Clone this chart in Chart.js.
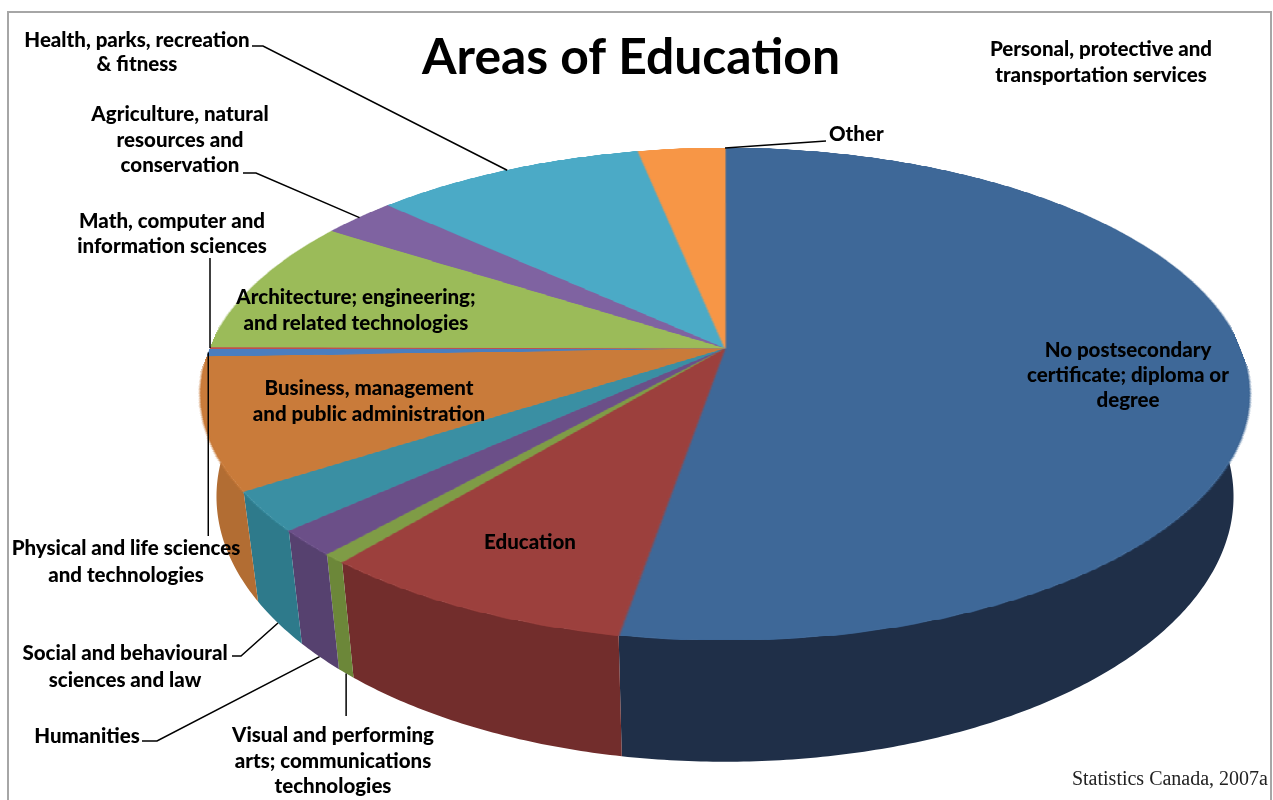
<!DOCTYPE html>
<html>
<head>
<meta charset="utf-8">
<title>Areas of Education</title>
<script src="https://cdn.jsdelivr.net/npm/chart.js@4.4.0/dist/chart.umd.min.js"></script>
<style>
  html, body { margin: 0; padding: 0; background: #fff; }
</style>
</head>
<body>
<canvas id="chart-areas" width="1273" height="800"></canvas>
<script>
// Categorias en orden horario desde las 12
var categorias = [
    "No postsecondary certificate; diploma or degree",
    "Education",
    "Visual and performing arts; communications technologies",
    "Humanities",
    "Social and behavioural sciences and law",
    "Business, management and public administration",
    "Physical and life sciences and technologies",
    "Math, computer and information sciences",
    "Architecture; engineering; and related technologies",
    "Agriculture, natural resources and conservation",
    "Health, parks, recreation & fitness",
    "Other",
    "Personal, protective and transportation services"
];
var porcentajes = [52.8, 8.3, 0.6, 1.7, 2.6, 8.6, 0.5, 0.1, 9.1, 2.7, 10.0, 3.2, 0];
var coloresCara = ["#3e6898", "#9c403d", "#7f9c46", "#6b4f88", "#3a8fa3", "#c97b3a",
                   "#4a7ebf", "#c0504d", "#9bbb59", "#7f63a1", "#4baac6", "#f79646", "#2c4d75"];
var coloresLado = ["#1f2f48", "#722d2c", "#6c8739", "#56416f", "#2e7a8b", "#b26d33",
                   "#3a6598", "#8c3a38", "#7c9647", "#654f80", "#3a8aa0", "#c97a38", "#22395a"];

// Perspectiva del pastel (vista inclinada)
var persp = { cx: 725, cy: 348, A: 515, B: 237.4, k: 0.187, prof: 99, base: 0.97 };

// Etiquetas: 'borde' linea al borde superior, 'base' linea al pie del lado, 'fin' al borde final
var etiquetas = [
    { i: 0, lineas: ["No postsecondary", "certificate; diploma or", "degree"], x: 1128, y: 357, paso: 25 },
    { i: 1, lineas: ["Education"], x: 530, y: 549 },
    { i: 2, lineas: ["Visual and performing", "arts; communications", "technologies"], x: 333, y: 742, paso: 25.5,
      linea: { ancla: "base", vertical: 716 } },
    { i: 3, lineas: ["Humanities"], x: 87, y: 743, linea: { ancla: "base", puntos: [[142, 741], [157, 741]] } },
    { i: 4, lineas: ["Social and behavioural", "sciences and law"], x: 125, y: 660, paso: 27,
      linea: { ancla: "base", puntos: [[232, 656], [241, 656]] } },
    { i: 5, lineas: ["Business, management", "and public administration"], x: 369, y: 395, paso: 26 },
    { i: 6, lineas: ["Physical and life sciences", "and technologies"], x: 126, y: 555, paso: 27,
      linea: { ancla: "borde", vertical: 536 } },
    { i: 7, lineas: ["Math, computer and", "information sciences"], x: 172, y: 228, paso: 25,
      linea: { ancla: "borde", vertical: 258 } },
    { i: 8, lineas: ["Architecture; engineering;", "and related technologies"], x: 356, y: 304, paso: 26 },
    { i: 9, lineas: ["Agriculture, natural", "resources and", "conservation"], x: 180, y: 121, paso: 25.5,
      linea: { ancla: "borde", puntos: [[243, 173], [256, 173]] } },
    { i: 10, lineas: ["Health, parks, recreation", "& fitness"], x: 137, y: 47, paso: 23.5,
      linea: { ancla: "borde", puntos: [[252, 46], [263, 46]] } },
    { i: 11, lineas: ["Other"], x: 829, y: 141, alinear: "left",
      linea: { ancla: "fin", puntos: [[826, 141]] } },
    { i: 12, lineas: ["Personal, protective and", "transportation services"], x: 1101, y: 56, paso: 26 }
];

function proyectar(theta, abajo) {
    var x = Math.sin(theta), z = Math.cos(theta);
    var f = 1 + persp.k * z;
    var u = persp.cx + persp.A * x / f;
    var v = persp.cy - persp.B * z / f;
    if (abajo) {
        u = persp.cx + (u - persp.cx) * persp.base;
        v += persp.prof / f;
    }
    return [u, v];
}

function dibujarLado(ctx, t1, t2, color) {
    var pasos = Math.max(2, Math.ceil((t2 - t1) / 0.01));
    ctx.beginPath();
    for (var s = 0; s <= pasos; s++) {
        var p = proyectar(t1 + (t2 - t1) * s / pasos, false);
        if (s === 0) ctx.moveTo(p[0], p[1]); else ctx.lineTo(p[0], p[1]);
    }
    for (var s2 = pasos; s2 >= 0; s2--) {
        var q = proyectar(t1 + (t2 - t1) * s2 / pasos, true);
        ctx.lineTo(q[0], q[1]);
    }
    ctx.closePath();
    ctx.fillStyle = color;
    ctx.fill();
}

// Copia la cara plana dibujada por Chart.js y la pinta fila por fila en perspectiva
function dibujarCara(ctx, plano, R) {
    var arriba = Math.ceil(persp.cy - persp.B / (1 + persp.k)) - 1;
    var abajoY = Math.floor(persp.cy + persp.B / (1 - persp.k)) + 1;
    for (var v = arriba; v <= abajoY; v++) {
        var w = (persp.cy - (v + 0.5)) / persp.B;
        var z = w / (1 - persp.k * w);
        if (z > 1 || z < -1) continue;
        var f = 1 + persp.k * z;
        var sy = Math.min(2 * R - 1, Math.max(0, Math.floor(R - z * R)));
        var s = persp.A / (f * R);
        ctx.drawImage(plano, 0, sy, 2 * R, 1, persp.cx - R * s, v, 2 * R * s, 1);
    }
}

var pastel3D = {
    id: "pastel3D",
    afterDatasetsDraw: function (chart) {
        var ctx = chart.ctx;
        var arcos = chart.getDatasetMeta(0).data;
        var cx = arcos[0].x, cy = arcos[0].y;
        var R = Math.floor(arcos[0].outerRadius);

        var plano = document.createElement("canvas");
        plano.width = 2 * R;
        plano.height = 2 * R;
        plano.getContext("2d").drawImage(chart.canvas, cx - R, cy - R, 2 * R, 2 * R, 0, 0, 2 * R, 2 * R);

        ctx.save();
        ctx.setTransform(1, 0, 0, 1, 0, 0);
        ctx.fillStyle = "#ffffff";
        ctx.fillRect(0, 0, chart.width, chart.height);

        // Marco
        ctx.strokeStyle = "#a6a6a6";
        ctx.lineWidth = 2;
        ctx.strokeRect(8, 12, 1263, 800);

        // Lados
        var angulos = arcos.map(function (a) {
            return [a.startAngle + Math.PI / 2, a.endAngle + Math.PI / 2];
        });
        angulos.forEach(function (t, i) {
            if (t[1] - t[0] > 0.0001) dibujarLado(ctx, t[0], t[1], coloresLado[i]);
        });

        // Cara superior
        dibujarCara(ctx, plano, R);

        // Titulo
        ctx.fillStyle = "#000";
        ctx.textAlign = "center";
        ctx.textBaseline = "alphabetic";
        ctx.font = "bold 50px Lato";
        ctx.fillText("Areas of Education", 631, 74, 418);

        // Etiquetas y lineas guia
        ctx.font = "900 20.5px Lato";
        etiquetas.forEach(function (e) {
            ctx.textAlign = e.alinear || "center";
            e.lineas.forEach(function (txt, n) {
                ctx.fillText(txt, e.x, e.y + n * (e.paso || 25));
            });
            if (!e.linea) return;
            var t = angulos[e.i];
            var theta = e.linea.ancla === "fin" ? t[1] : (t[0] + t[1]) / 2;
            var p = proyectar(theta, e.linea.ancla === "base");
            ctx.beginPath();
            ctx.strokeStyle = "#000";
            ctx.lineWidth = 1.5;
            if (e.linea.vertical) {
                ctx.moveTo(p[0], e.linea.vertical);
                ctx.lineTo(p[0], p[1]);
            } else {
                ctx.moveTo(e.linea.puntos[0][0], e.linea.puntos[0][1]);
                e.linea.puntos.slice(1).forEach(function (q) { ctx.lineTo(q[0], q[1]); });
                ctx.lineTo(p[0], p[1]);
            }
            ctx.stroke();
        });

        // Fuente
        ctx.textAlign = "right";
        ctx.font = "20px 'Liberation Serif'";
        ctx.fillStyle = "#222";
        ctx.fillText("Statistics Canada, 2007a", 1268, 785);
        ctx.restore();
    }
};

var chart = new Chart(document.getElementById("chart-areas").getContext("2d"), {
    type: "pie",
    data: {
        labels: categorias,
        datasets: [{
            data: porcentajes,
            backgroundColor: coloresCara,
            borderColor: coloresCara,
            borderWidth: 1
        }]
    },
    options: {
        responsive: false,
        animation: false,
        events: [],
        layout: { padding: 0 },
        plugins: {
            legend: { display: false },
            tooltip: { enabled: false }
        }
    },
    plugins: [pastel3D]
});
</script>
</body>
</html>
